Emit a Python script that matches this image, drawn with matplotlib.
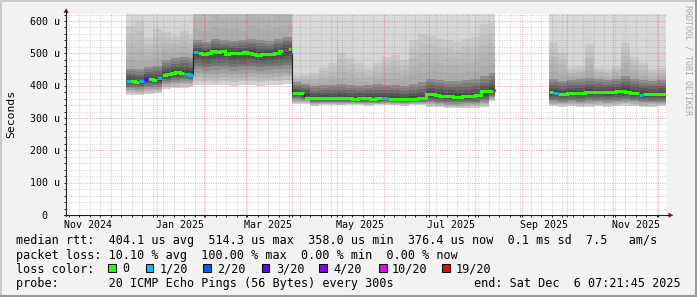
import numpy as np
import matplotlib
matplotlib.use("Agg")
import matplotlib.pyplot as plt
from matplotlib.patches import Polygon, Rectangle
from datetime import date

W, H = 697, 297
START = date(2024, 11, 1)       # day 0 of the x axis
END_DAY = 400.3                 # Sat Dec  6 07:21:45 2025
GAPS = [(286.3, 322.0)]         # no data in between

# median rtt (us), one sample per entry, starting at med_day (days after START)
med_day = [40, 43, 46, 49, 52, 55, 58, 61, 64, 67, 70, 73, 76, 79, 82,
           85, 88, 91, 94, 97, 100, 103, 106, 109, 112, 115, 118, 121, 124, 127,
           130, 133, 136, 139, 142, 145, 148, 150,
           151, 154, 157, 159, 163, 167, 171, 175, 179, 183, 187, 191, 195, 199,
           203, 207, 211, 215, 219, 223, 227, 231, 235,
           240, 243, 246, 249, 252, 255, 258, 261, 264, 267, 270, 273, 277, 280, 283, 284.6,
           322, 325, 328, 331, 334, 337, 340, 343, 346, 349, 352, 355, 358, 361, 364,
           367, 370, 373, 376, 379, 382, 385, 388, 391, 394, 397]
med_val = [415, 413, 410, 414, 420, 420, 417, 424, 432, 436, 439, 441, 440, 436, 434,
           503, 500, 497, 501, 506, 503, 506, 499, 500, 502, 502, 503, 502, 498, 495,
           497, 498, 499, 502, 507, 509, 512, 500,
           377, 377, 376, 361, 361, 362, 362, 361, 362, 362, 361, 360, 361, 361,
           360, 361, 361, 360, 359, 358, 360, 360, 362,
           374, 373, 371, 368, 367, 367, 366, 366, 367, 368, 369, 370, 383, 384, 385, 386,
           380, 376, 375, 375, 377, 376, 376, 376, 379, 379, 380, 379, 379, 380, 380,
           384, 382, 379, 377, 376, 372, 373, 373, 373, 374, 374]
med_loss = [1, 0, 0, 1, 3, 0, 0, 1, 0, 0, 0, 0, 0, 1, 1,
            1, 0, 0, 0, 0, 0, 0, 0, 0, 0, 0, 0, 0, 0, 0,
            0, 0, 0, 0, 0, 10, 0, 1,
            0, 0, 0, 0, 0, 0, 0, 0, 0, 0, 0, 0, 0, 0,
            0, 0, 1, 0, 0, 0, 0, 0, 0,
            0, 0, 0, 0, 0, 0, 0, 0, 0, 0, 0, 0, 0, 0, 0, 10,
            0, 1, 0, 0, 0, 0, 0, 0, 0, 0, 0, 0, 0, 0, 0,
            0, 0, 0, 0, 0, 1, 0, 0, 0, 0, 0]

# smoke: spread of the 20 pings per sample (us)
smoke_day = [40, 46, 52, 58, 64, 70, 76, 82,
             85, 91, 97, 103, 109, 115, 121, 127, 133, 139, 145,
             151, 157, 163, 169, 175, 181, 187, 193, 199, 205, 211, 217, 223, 229, 235,
             240, 246, 252, 258, 264, 270, 276, 282,
             322, 328, 334, 340, 346, 352, 358, 364, 370, 376, 382, 388, 394]
smoke_med = [414, 411, 420, 418, 432, 439, 440, 435,
             502, 499, 505, 504, 500, 502, 502, 496, 498, 502, 509,
             377, 372, 361, 362, 361, 362, 361, 360, 361, 360, 361, 360, 358, 360, 362,
             373, 370, 367, 366, 366, 368, 376, 384,
             377, 375, 377, 376, 379, 380, 379, 380, 382, 377, 374, 373, 374]
smoke_min = [372, 370, 373, 376, 390, 392, 393, 395,
             403, 402, 401, 402, 400, 402, 401, 400, 402, 403, 404,
             342, 342, 338, 340, 340, 339, 340, 340, 338, 340, 340, 339, 338, 340, 340,
             335, 333, 330, 330, 331, 332, 334, 352,
             336, 335, 336, 334, 335, 336, 335, 336, 338, 336, 334, 335, 336]
smoke_lo = [397, 395, 400, 401, 414, 418, 420, 418,
            462, 458, 460, 462, 458, 460, 462, 458, 460, 462, 465,
            362, 358, 350, 350, 350, 351, 350, 349, 350, 349, 350, 349, 348, 350, 351,
            352, 350, 348, 348, 349, 350, 355, 368,
            355, 354, 355, 354, 356, 356, 355, 356, 358, 356, 353, 353, 354]
smoke_hi1 = [452, 450, 458, 462, 480, 486, 488, 484,
             540, 535, 545, 540, 538, 542, 545, 540, 538, 545, 550,
             410, 405, 400, 402, 403, 405, 402, 400, 402, 404, 403, 402, 400, 405, 410,
             420, 418, 415, 415, 418, 420, 430, 440,
             420, 415, 418, 420, 425, 420, 418, 422, 430, 422, 418, 415, 418]
smoke_hi2 = [585, 600, 548, 575, 565, 555, 570, 560,
             720, 700, 730, 710, 720, 700, 740, 720, 710, 730, 720,
             432, 435, 440, 455, 470, 500, 485, 470, 455, 470, 490, 495, 480, 540, 560,
             555, 545, 540, 535, 545, 550, 590, 595,
             536, 500, 455, 460, 525, 455, 450, 460, 532, 490, 470, 450, 455]

loss_colors = {0: '#26ff00', 1: '#00b8ff', 2: '#0059ff', 3: '#5e00ff',
               4: '#7e00ff', 10: '#dd00ff', 19: '#ff0000'}
loss_labels = ['0', '1/20', '2/20', '3/20', '4/20', '10/20', '19/20']
loss_keys = [0, 1, 2, 3, 4, 10, 19]

YTOP = 621.6
MONO = 'DejaVu Sans Mono'


def right_edges(days):
    d = np.asarray(days, float)
    r = np.append(d[1:], END_DAY)
    for gs, ge in GAPS:
        r[(d < gs) & (r > gs)] = gs
    return r


def dnum(dt):
    return (dt - START).days


fig = plt.figure(figsize=(W / 100, H / 100), dpi=100)
fig.patch.set_facecolor('#f2f2f2')
ax = fig.add_axes([65.7 / W, (H - 215) / H, 600 / W, 201 / H], zorder=1)
ax.set_facecolor('white')
ax.set_xlim(0, 400)
ax.set_ylim(0, YTOP)
for s in ax.spines.values():
    s.set_visible(False)

# smoke
sd = np.asarray(smoke_day, float)
sw = right_edges(smoke_day) - sd
bands = [(smoke_min, smoke_lo, 218, 135),
         (smoke_lo, smoke_med, 125, 62),
         (smoke_med, smoke_hi1, 62, 150),
         (smoke_hi1, smoke_hi2, 168, 204),
         (smoke_hi2, [YTOP + 50] * len(sd), 212, 222)]
n = 5
for lo, hi, g0, g1 in bands:
    lo = np.asarray(lo, float)
    hi = np.asarray(hi, float)
    for k in range(n):
        b = lo + (hi - lo) * k / n
        t = lo + (hi - lo) * (k + 1) / n
        g = (g0 + (g1 - g0) * (k + 0.5) / n) / 255
        ax.bar(sd, t - b, sw, b, align='edge', color=(g, g, g),
               linewidth=0, antialiased=False, zorder=1)

# grid
months = []
m = date(2024, 12, 1)
while m < date(2025, 12, 7):
    months.append(dnum(m))
    m = date(m.year + (m.month // 12), m.month % 12 + 1, 1)
weeks = [d for d in range(2, 401, 7) if d not in months]
dash = dict(linestyles=(0, (1, 1.2)), linewidth=0.75, zorder=2)
ax.vlines(weeks, 0, YTOP, colors=(0.55, 0.55, 0.55, 0.35), **dash)
ax.hlines([v for v in range(20, 621, 20) if v % 100], 0, 400,
          colors=(0.55, 0.55, 0.55, 0.35), **dash)
ax.vlines(months, 0, YTOP, colors=(0.9, 0.1, 0.1, 0.35), **dash)
ax.hlines(range(100, 601, 100), 0, 400, colors=(0.9, 0.1, 0.1, 0.35), **dash)

ax.set_xticks(months)
ax.set_xticks(weeks, minor=True)
ax.set_yticks(range(0, 601, 100))
ax.set_yticks(range(20, 621, 20), minor=True)
ax.tick_params(which='both', direction='out', length=1.6, width=0.7,
               color='#202020', labelbottom=False, labelleft=False)

# median line: thin dark base, then loss coloured segments
ml = np.asarray(med_day, float)
mr = right_edges(med_day)
bx, by = [], []
segs = {}
for i in range(len(ml)):
    if i == 0 or ml[i] != mr[i - 1]:
        bx.append(np.nan)
        by.append(np.nan)
    bx += [ml[i], mr[i]]
    by += [med_val[i], med_val[i]]
    c = med_loss[i]
    xs, ys = segs.setdefault(c, ([], []))
    joined = (i > 0 and med_loss[i - 1] == c and ml[i] == mr[i - 1]
              and abs(med_val[i] - med_val[i - 1]) < 15)
    if not joined:
        xs.append(np.nan)
        ys.append(np.nan)
    xs += [ml[i], mr[i]]
    ys += [med_val[i], med_val[i]]
ax.plot(bx, by, color='#202020', linewidth=0.8, zorder=3)
for c, (xs, ys) in segs.items():
    ax.plot(xs, ys, color=loss_colors[c], linewidth=2.2, zorder=4,
            solid_capstyle='butt', solid_joinstyle='miter')

# overlay in pixel coordinates for frame, axes, texts
ov = fig.add_axes([0, 0, 1, 1], zorder=2)
ov.set_xlim(0, W)
ov.set_ylim(H, 0)
ov.axis('off')
ov.patch.set_visible(False)

ov.add_patch(Rectangle((0, 0), W, 2, color='#cbcbcb', lw=0))
ov.add_patch(Rectangle((0, 0), 2, H, color='#cbcbcb', lw=0))
ov.add_patch(Rectangle((0, H - 2), W, 2, color='#999999', lw=0))
ov.add_patch(Rectangle((W - 2, 0), 2, H, color='#999999', lw=0))

ax_col = '#202020'
arrow_col = '#8a1c1c'
ov.plot([66, 66], [216, 11], color=ax_col, lw=0.8)
ov.plot([64, 669], [215.2, 215.2], color=ax_col, lw=0.8)
ov.add_patch(Polygon([[63.5, 12.8], [68.8, 12.8], [66.1, 8.2]], closed=True,
                     color=arrow_col, lw=0))
ov.add_patch(Polygon([[668.5, 212.6], [668.5, 217.8], [673.4, 215.2]], closed=True,
                     color=arrow_col, lw=0))

for v in range(0, 601, 100):
    y = 215 - v * 0.32333
    if v == 0:
        ov.text(47.6, y + 3.6, '0', ha='right', va='baseline', family=MONO, fontsize=7.2)
    else:
        ov.text(59.8, y + 3.6, '%d u' % v, ha='right', va='baseline', family=MONO,
                fontsize=7.2)

for mth in [date(2024, 11, 1), date(2025, 1, 1), date(2025, 3, 1), date(2025, 5, 1),
            date(2025, 7, 1), date(2025, 9, 1), date(2025, 11, 1)]:
    x = 65.7 + 1.5 * (dnum(mth) + 15)
    ov.text(x, 227.5, mth.strftime('%b %Y'), ha='center', va='baseline',
            family=MONO, fontsize=7.2)

ov.text(10.8, 114, 'Seconds', rotation=90, ha='center', va='center',
        family=MONO, fontsize=8.2)
ov.text(687.6, 60, 'RRDTOOL / TOBI OETIKER', rotation=270, ha='center', va='center',
        family=MONO, fontsize=6, color='#aaaaaa')

lines = ['median rtt:  404.1 us avg  514.3 us max  358.0 us min  376.4 us now  '
         '0.1 ms sd  7.5   am/s',
         'packet loss: 10.10 % avg  100.00 % max  0.00 % min  0.00 % now',
         'loss color:',
         'probe:       20 ICMP Echo Pings (56 Bytes) every 300s']
for i, s in enumerate(lines):
    ov.text(15.5, 244.3 + 14.2 * i, s, ha='left', va='baseline', family=MONO,
            fontsize=8.5)
ov.text(680.5, 244.3 + 14.2 * 3, 'end: Sat Dec  6 07:21:45 2025', ha='right',
        va='baseline', family=MONO, fontsize=8.5)

box_x = [108.3, 145.7, 203.3, 261.7, 319.0, 379.3, 442.3]
lab_x = [122.5, 160.0, 217.5, 276.0, 333.3, 392.0, 456.0]
for bxp, lx, k, lab in zip(box_x, lab_x, loss_keys, loss_labels):
    ov.add_patch(Rectangle((bxp, 264.4), 7.6, 7.6, facecolor=loss_colors[k],
                           edgecolor='#000000', lw=0.7))
    ov.text(lx, 272.5, lab, ha='left', va='baseline', family=MONO, fontsize=8.5)

fig.savefig('out.png', dpi=100, facecolor=fig.get_facecolor())
